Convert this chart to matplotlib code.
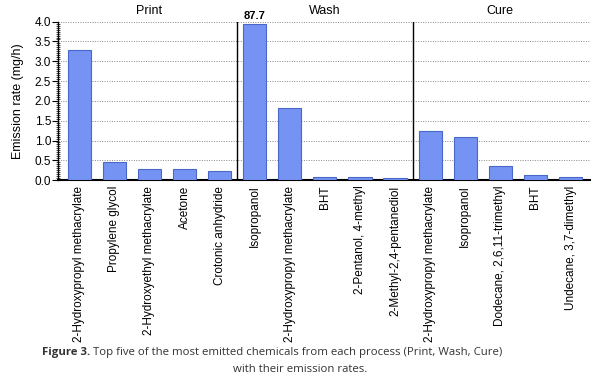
import numpy as np
import matplotlib.pyplot as plt
from matplotlib.ticker import MultipleLocator, FormatStrFormatter

# Data (mg/h)
processes = ['Print', 'Wash', 'Cure']
print_chems = ['2-Hydroxypropyl methacrylate', 'Propylene glycol',
               '2-Hydroxyethyl methacrylate', 'Acetone', 'Crotonic anhydride']
print_rates = [3.29, 0.46, 0.29, 0.28, 0.22]
wash_chems = ['Isopropanol', '2-Hydroxypropyl methacrylate', 'BHT',
              '2-Pentanol, 4-methyl', '2-Methyl-2,4-pentanediol']
wash_rates = [87.7, 1.81, 0.07, 0.07, 0.05]
cure_chems = ['2-Hydroxypropyl methacrylate', 'Isopropanol',
              'Dodecane, 2,6,11-trimethyl', 'BHT', 'Undecane, 3,7-dimethyl']
cure_rates = [1.24, 1.08, 0.35, 0.13, 0.07]

labels = print_chems + wash_chems + cure_chems
rates = np.array(print_rates + wash_rates + cure_rates)
ymax = 4.0
shown = np.minimum(rates, 3.94)  # off-scale bar is cut just under the top

plt.rcParams['font.family'] = ['Liberation Sans', 'DejaVu Sans']

fig = plt.figure(figsize=(6, 3.8), dpi=100)
ax = fig.add_axes([0.097, 0.526, 0.886, 0.417])

x = np.arange(len(labels))
ax.bar(x, shown, width=0.66, color='#7593f2', edgecolor='#4a68c8', linewidth=0.8, zorder=3)

ax.set_xlim(-0.6, len(labels) - 0.45)
ax.set_ylim(0, ymax)
ax.yaxis.set_major_locator(MultipleLocator(0.5))
ax.yaxis.set_minor_locator(MultipleLocator(0.05))
ax.yaxis.set_major_formatter(FormatStrFormatter('%.1f'))
ax.tick_params(axis='y', labelsize=8.5)
ax.set_xticks(x)
ax.set_xticklabels(labels, rotation=90, fontsize=8.5)
ax.tick_params(axis='x', length=0, pad=4)
ax.tick_params(axis='y', which='major', length=4, width=0.8, pad=1)
ax.tick_params(axis='y', which='minor', direction='inout', length=3, width=0.5)
ax.set_ylabel('Emission rate (mg/h)', fontsize=9, labelpad=8)

ax.grid(axis='y', linestyle=(0, (1, 1.5)), color='#888888', linewidth=0.7, zorder=0)
ax.spines['top'].set_visible(False)
ax.spines['right'].set_visible(False)
ax.spines['left'].set_linewidth(1.0)
ax.spines['bottom'].set_linewidth(1.5)

# Separators between processes and group titles
for i, name in enumerate(processes):
    if i > 0:
        ax.axvline(i * 5 - 0.5, color='black', linewidth=1.0, zorder=4)
    ax.text(i * 5 + 2, ymax + 0.12, name, ha='center', va='bottom', fontsize=9)

# Value of the off-scale bar
big = int(np.argmax(rates))
ax.text(x[big], ymax + 0.02, f'{rates[big]:.1f}', ha='center', va='bottom',
        fontsize=8, fontweight='bold')

# Caption
cap_font = ['Open Sans', 'DejaVu Sans']
head = fig.text(0.07, 0.072, 'Figure 3.', ha='left', va='center', fontsize=8.2,
                fontweight='bold', color='#333333', family=cap_font)
ax.annotate(' Top five of the most emitted chemicals from each process (Print, Wash, Cure)',
            xy=(1, 0.5), xycoords=head, ha='left', va='center', fontsize=8.2,
            color='#333333', family=cap_font, annotation_clip=False)
fig.text(0.5, 0.027, 'with their emission rates.', ha='center', va='center', fontsize=8.2,
         color='#333333', family=cap_font)

fig.savefig('out.png', dpi=100)
